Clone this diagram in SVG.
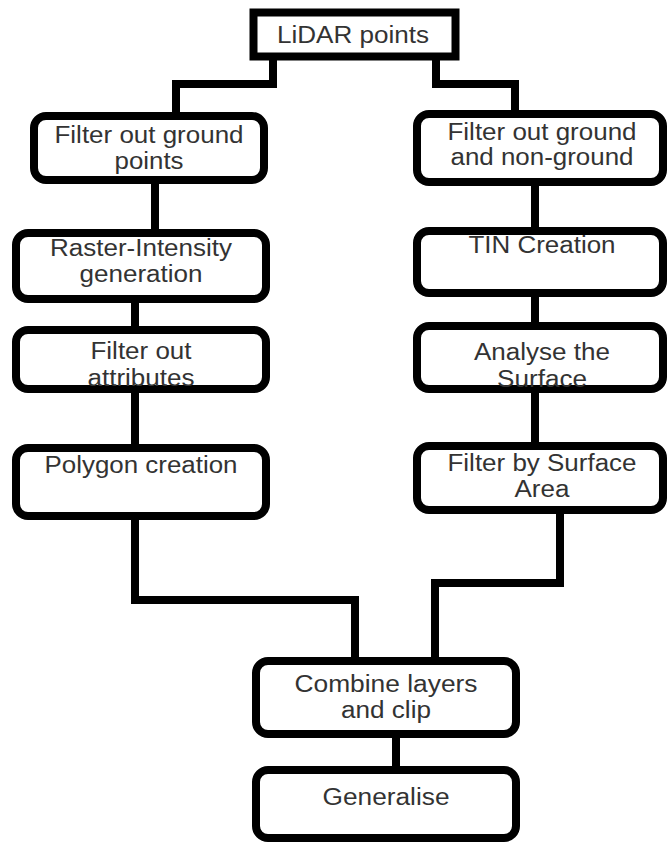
<svg xmlns="http://www.w3.org/2000/svg" width="671" height="844" viewBox="0 0 671 844">
<style>
.box{fill:#fff;stroke:#000;stroke-width:8}
.conn{fill:none;stroke:#000;stroke-width:8;stroke-linejoin:miter}
text{font-family:"Liberation Sans",Arial,sans-serif;font-size:23px;fill:#333;text-anchor:middle}
</style>
<rect width="671" height="844" fill="#fff"/>
<g id="connectors">
<path class="conn" d="M273 60 V84 H176 V112"/>
<path class="conn" d="M436 60 V84 H515 V110"/>
<path class="conn" d="M155 184 V229"/>
<path class="conn" d="M135 303 V326"/>
<path class="conn" d="M135 393 V444"/>
<path class="conn" d="M135 520 V600 H355 V657"/>
<path class="conn" d="M535 186 V227"/>
<path class="conn" d="M535 297 V322"/>
<path class="conn" d="M535 393 V442"/>
<path class="conn" d="M560 514 V583 H435 V657"/>
<path class="conn" d="M396 738 V766"/>
</g>
<g id="lidar"><rect class="box" x="253.5" y="12.5" width="202" height="44"/><text x="353" y="43" textLength="152" lengthAdjust="spacingAndGlyphs">LiDAR points</text></g>
<g id="filter-ground"><rect class="box" x="34" y="116" width="230" height="64" rx="12"/><text x="149" y="143" textLength="189" lengthAdjust="spacingAndGlyphs">Filter out ground</text><text x="149" y="169" textLength="69" lengthAdjust="spacingAndGlyphs">points</text></g>
<g id="raster"><rect class="box" x="16" y="233" width="250" height="66" rx="12"/><text x="141" y="256" textLength="182" lengthAdjust="spacingAndGlyphs">Raster-Intensity</text><text x="141" y="282" textLength="123" lengthAdjust="spacingAndGlyphs">generation</text></g>
<g id="filter-attr"><rect class="box" x="16" y="330" width="250" height="59" rx="12"/><text x="141" y="359" textLength="101" lengthAdjust="spacingAndGlyphs">Filter out</text><text x="141" y="386" textLength="107" lengthAdjust="spacingAndGlyphs">attributes</text></g>
<g id="polygon"><rect class="box" x="16" y="448" width="250" height="68" rx="12"/><text x="141" y="473" textLength="193" lengthAdjust="spacingAndGlyphs">Polygon creation</text></g>
<g id="filter-nonground"><rect class="box" x="417" y="114" width="246" height="68" rx="12"/><text x="542" y="140" textLength="189" lengthAdjust="spacingAndGlyphs">Filter out ground</text><text x="542" y="165" textLength="183" lengthAdjust="spacingAndGlyphs">and non-ground</text></g>
<g id="tin"><rect class="box" x="417" y="231" width="246" height="62" rx="12"/><text x="542" y="253" textLength="147" lengthAdjust="spacingAndGlyphs">TIN Creation</text></g>
<g id="analyse"><rect class="box" x="417" y="326" width="246" height="63" rx="12"/><text x="542" y="360" textLength="136" lengthAdjust="spacingAndGlyphs">Analyse the</text><text x="542" y="387" textLength="90" lengthAdjust="spacingAndGlyphs">Surface</text></g>
<g id="filter-area"><rect class="box" x="417" y="446" width="246" height="64" rx="12"/><text x="542" y="471" textLength="189" lengthAdjust="spacingAndGlyphs">Filter by Surface</text><text x="542" y="497" textLength="55" lengthAdjust="spacingAndGlyphs">Area</text></g>
<g id="combine"><rect class="box" x="256" y="661" width="260" height="73" rx="12"/><text x="386" y="692" textLength="183" lengthAdjust="spacingAndGlyphs">Combine layers</text><text x="386" y="718" textLength="90" lengthAdjust="spacingAndGlyphs">and clip</text></g>
<g id="generalise"><rect class="box" x="256" y="770" width="260" height="68" rx="12"/><text x="386" y="805" textLength="127" lengthAdjust="spacingAndGlyphs">Generalise</text></g>
</svg>
